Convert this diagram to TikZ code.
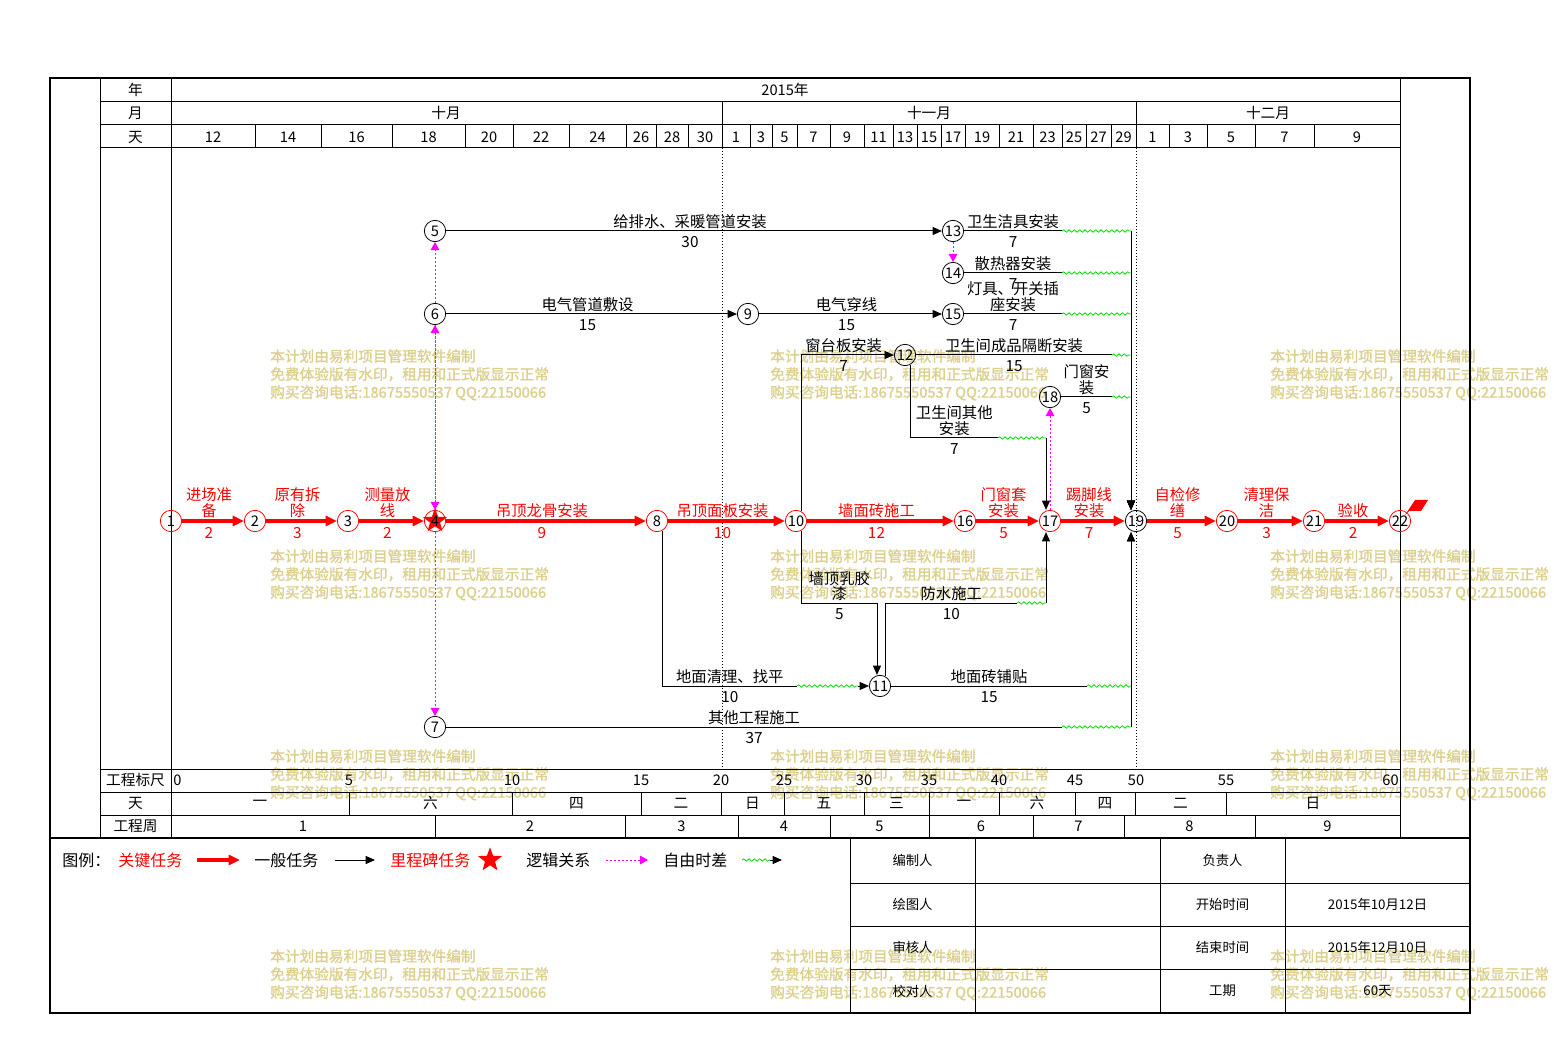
\documentclass[tikz,border=0pt]{standalone}
\usepackage{fontspec}
\setmainfont{Noto Sans CJK SC}
\newfontfamily\wmfont[FakeBold=1.5]{Noto Sans CJK SC}
\usepackage{tikz}
\usetikzlibrary{arrows.meta,positioning,calc,shapes.geometric,decorations.pathmorphing}
\definecolor{critRed}{HTML}{FF0000}
\definecolor{logicPink}{HTML}{FF00FF}
\definecolor{floatGreen}{HTML}{00E000}
\definecolor{wmKhaki}{HTML}{DCD08E}
\newcommand{\lblfont}{\fontsize{11.5}{11.5}\selectfont}
\newcommand{\cellfont}{\fontsize{11}{12}\selectfont}
\newcommand{\evtfont}{\fontsize{11}{11}\selectfont}
\newcommand{\tabfont}{\fontsize{10}{11}\selectfont}

\begin{document}
\begin{tikzpicture}[x=0.75pt,y=-0.75pt,font=\lblfont,
  evt/.style={circle,draw=black,line width=0.6pt,inner sep=0pt,minimum size=16pt,font=\evtfont},
  cevt/.style={evt,draw=critRed},
  task/.style={draw=black,line width=0.75pt},
  tarr/.style={task,-{Triangle[length=7pt,width=6pt]}},
  crit/.style={draw=critRed,line width=2.5pt,-{Triangle[length=8.5pt,width=7.5pt]}},
  logic/.style={draw=logicPink,line width=0.75pt,dash pattern=on 1.5pt off 1.5pt,
                -{Triangle[length=6pt,width=6.5pt]}},
  flt/.style={draw=floatGreen,line width=0.6pt,decorate,
              decoration={snake,amplitude=0.9pt,segment length=4pt}},
  tname/.style={above=0.5pt,align=center,inner sep=1pt},
  tdur/.style={below=2.5pt,inner sep=1pt},
  aname/.style={tname,xshift=-3pt},
  adur/.style={tdur,xshift=-3pt},
  cname/.style={aname,text=critRed},
  cdur/.style={adur,text=critRed},
  cell/.style={font=\cellfont,inner sep=0pt},
  wm/.style={text=wmKhaki,font=\wmfont\fontsize{11}{13.5}\selectfont,align=left,
             anchor=north west,inner sep=0pt}]
  \useasboundingbox[fill=white] (0,0) rectangle (1554,1062);

  % watermark
  \foreach \wx in {270,770,1270}
    \foreach \wy in {349,549,749,949}
      \node[wm] (wm-\wx-\wy) at (\wx,\wy)
        {本计划由易利项目管理软件编制\\免费体验版有水印，租用和正式版显示正常\\购买咨询电话:18675550537 QQ:22150066};

  % frame and time scale
  \draw[line width=1.5pt] (50,78) rectangle (1470,1013);
  \draw[line width=1.5pt] (50,838) -- (1470,838);
  \foreach \xx in {100,171,1400} \draw[line width=0.75pt] (\xx,78) -- (\xx,838);
  \foreach \yy in {102,125,148,769,792,815} \draw[line width=0.75pt] (100,\yy) -- (1400,\yy);
  \draw[line width=0.75pt] (722,102) -- (722,125) (1136,102) -- (1136,125);
  \draw[dash pattern=on 0.75pt off 1.5pt] (722,148) -- (722,769) (1136,148) -- (1136,769);

  \node[cell] (hY) at (135.5,90) {年};
  \node[cell] (hM) at (135.5,113) {月};
  \node[cell] (hD) at (135.5,137) {天};
  \node[cell] (fS) at (135.5,780) {工程标尺};
  \node[cell] (fD) at (135.5,803) {天};
  \node[cell] (fW) at (135.5,826) {工程周};
  \node[cell] (yr) at (785,90) {2015年};
  \node[cell] (m10) at (446,113) {十月};
  \node[cell] (m11) at (929,113) {十一月};
  \node[cell] (m12) at (1268,113) {十二月};

  \foreach \a/\b/\d [count=\i] in {171/255/12,255/321/14,321/392/16,392/465/18,465/513/20,
      513/569/22,569/626/24,626/656/26,656/688/28,688/722/30,722/750/1,750/772/3,772/797/5,
      797/830/7,830/864/9,864/893/11,893/917/13,917/941/15,941/965/17,965/999/19,999/1033/21,
      1033/1062/23,1062/1086/25,1086/1111/27,1111/1136/29,1136/1169/1,1169/1207/3,
      1207/1255/5,1255/1314/7,1314/1400/9} {
    \draw[line width=0.75pt] (\b,125) -- (\b,148);
    \node[cell] (day\i) at ({(\a+\b)/2},137) {\d};
  }
  \foreach \a/\b/\w [count=\i] in {171/349/一,349/512/六,512/641/四,641/721/二,721/784/日,
      784/864/五,864/929/三,929/999/一,999/1075/六,1075/1135/四,1135/1226/二,1226/1400/日} {
    \draw[line width=0.75pt] (\b,792) -- (\b,815);
    \node[cell] (wd\i) at ({(\a+\b)/2},803) {\w};
  }
  \foreach \a/\b/\w [count=\i] in {171/435/1,435/625/2,625/738/3,738/830/4,830/929/5,
      929/1033/6,1033/1124/7,1124/1255/8,1255/1400/9} {
    \draw[line width=0.75pt] (\b,815) -- (\b,838);
    \node[cell] (wk\i) at ({(\a+\b)/2},826) {\w};
  }
  \node[cell,anchor=west] (sc0) at (173,780) {0};
  \foreach \v/\px in {5/349,10/512,15/641,20/721,25/784,30/864,35/929,40/999,45/1075,50/1136,55/1226}
    \node[cell] (sc\v) at (\px,780) {\v};
  \node[cell,anchor=east] (sc60) at (1399,780) {60};

  % events
  \node[cevt] (e1) at (171,521) {1};
  \node[cevt] (e2) at (255,521) {2};
  \node[cevt] (e3) at (348,521) {3};
  \node[cevt] (e4) at (435,521) {};
  \node[evt] (e5) at (435,231) {5};
  \node[evt] (e6) at (435,314) {6};
  \node[evt] (e7) at (435,727) {7};
  \node[cevt] (e8) at (657,521) {8};
  \node[evt] (e9) at (748,314) {9};
  \node[cevt] (e10) at (796,521) {10};
  \node[evt] (e11) at (880,686) {11};
  \node[evt] (e12) at (905,355) {12};
  \node[evt] (e13) at (953,231) {13};
  \node[evt] (e14) at (953,273) {14};
  \node[evt] (e15) at (953,314) {15};
  \node[cevt] (e16) at (965,521) {16};
  \node[cevt] (e17) at (1050,521) {17};
  \node[evt] (e18) at (1050,397) {18};
  \node[evt] (e19) at (1136,521) {19};
  \node[cevt] (e20) at (1227,521) {20};
  \node[cevt] (e21) at (1314,521) {21};
  \node[cevt] (e22) at (1400,521) {22};
  \node[star,star points=5,star point ratio=2.4,fill=critRed,inner sep=0pt,minimum size=19pt] (s4) at (e4) {};
  \node[font=\evtfont,inner sep=0pt] (t4) at (e4) {4};
  \fill[critRed] (1405,515) -- (1415,500) -- (1428,500) -- (1421,511) -- (1409,511) -- cycle;

  \coordinate (w13) at (1062,231); \coordinate (c13) at (1131,231);
  \coordinate (w14) at (1062,273); \coordinate (c14) at (1131,273);
  \coordinate (w15) at (1062,314); \coordinate (c15) at (1131,314);
  \coordinate (w12) at (1112,355); \coordinate (c12) at (1131,355);
  \coordinate (w18) at (1112,397); \coordinate (c18) at (1131,397);
  \coordinate (w7) at (1062,727);  \coordinate (c7) at (1131,727);
  \coordinate (w11) at (1087,686); \coordinate (c11) at (1131,686);
  \coordinate (w17a) at (998,438); \coordinate (c17a) at (1046,438);
  \coordinate (b10) at (877,603);
  \coordinate (w17b) at (1017,603); \coordinate (c17b) at (1046,603);
  \coordinate (w811) at (797,686); \coordinate (c811) at (858,686);

  % critical path
  \draw[crit] (e1) -- (e2) node[midway,cname] (n1) {进场准\\备} node[midway,cdur] (d1) {2};
  \draw[crit] (e2) -- (e3) node[midway,cname] (n2) {原有拆\\除} node[midway,cdur] (d2) {3};
  \draw[crit] (e3) -- (e4) node[midway,cname] (n3) {测量放\\线} node[midway,cdur] (d3) {2};
  \draw[crit] (e4) -- (e8) node[midway,cname] (n4) {吊顶龙骨安装} node[midway,cdur] (d4) {9};
  \draw[crit] (e8) -- (e10) node[midway,cname] (n8) {吊顶面板安装} node[midway,cdur] (d8) {10};
  \draw[crit] (e10) -- (e16) node[midway,cname] (n10) {墙面砖施工} node[midway,cdur] (d10) {12};
  \draw[crit] (e16) -- (e17) node[midway,cname] (n16) {门窗套\\安装} node[midway,cdur] (d16) {5};
  \draw[crit] (e17) -- (e19) node[midway,cname] (n17) {踢脚线\\安装} node[midway,cdur] (d17) {7};
  \draw[crit] (e19) -- (e20) node[midway,cname] (n19) {自检修\\缮} node[midway,cdur] (d19) {5};
  \draw[crit] (e20) -- (e21) node[midway,cname] (n20) {清理保\\洁} node[midway,cdur] (d20) {3};
  \draw[crit] (e21) -- (e22) node[midway,cname] (n21) {验收} node[midway,cdur] (d21) {2};

  % logic links
  \draw[logic] (e4) -- (e6);
  \draw[logic] (e6) -- (e4);
  \draw[logic] (e6) -- (e5);
  \draw[logic] (e4) -- (e7);
  \draw[logic] (e13) -- (e14);
  \draw[logic] (e17) -- (e18);

  % other tasks
  \draw[tarr] (e5) -- (e13) node[midway,aname] (n5) {给排水、采暖管道安装} node[midway,adur] (d5) {30};
  \draw[tarr] (e6) -- (e9) node[midway,aname] (n6) {电气管道敷设} node[midway,adur] (d6) {15};
  \draw[tarr] (e9) -- (e15) node[midway,aname] (n9) {电气穿线} node[midway,adur] (d9) {15};
  \draw[task] (e13) -- (w13) node[midway,tname] (n13) {卫生洁具安装} node[midway,tdur] (d13) {7};
  \draw[task] (e14) -- (w14) node[midway,tname] (n14) {散热器安装} node[midway,tdur] (d14) {7};
  \draw[task] (e15) -- (w15) node[midway,tname] (n15) {灯具、开关插\\座安装} node[midway,tdur] (d15) {7};
  \draw[task] (e12) -- (w12) node[midway,tname] (n12) {卫生间成品隔断安装} node[midway,tdur] (d12) {15};
  \draw[task] (e18) -- (w18) node[midway,tname] (n18) {门窗安\\装} node[midway,tdur] (d18) {5};
  \draw[task] (e7) -- (w7) node[midway,tname] (n7) {其他工程施工} node[midway,tdur] (d7) {37};
  \draw[task] (e11) -- (w11) node[midway,tname] (n11) {地面砖铺贴} node[midway,tdur] (d11) {15};
  \draw[tarr] (e10.60) |- (e12) node[pos=0.75,aname] (n1012) {窗台板安装} node[pos=0.75,adur] (d1012) {7};
  \draw[task] (e12.-60) |- (w17a) node[pos=0.75,tname] (n1217) {卫生间其他\\安装} node[pos=0.75,tdur] (d1217) {7};
  \draw[tarr] (e10.-60) |- (b10) node[pos=0.75,tname] (n1011) {墙顶乳胶\\漆} node[pos=0.75,tdur] (d1011) {5}
    -- (b10 |- e11.north);
  \draw[task] (e11.60) |- (w17b) node[pos=0.75,tname] (n1117) {防水施工} node[pos=0.75,tdur] (d1117) {10};
  \draw[task] (e8.-60) |- (w811) node[pos=0.75,tname] (n811) {地面清理、找平} node[pos=0.75,tdur] (d811) {10};

  % free float
  \foreach \f in {13,14,15,12,18,7,11,17a,17b,811} \draw[flt] (w\f) -- (c\f);
  \foreach \f in {13,14,15,12,18} \draw[tarr] (c\f) -- (c\f |- e19.north);
  \foreach \f in {7,11} \draw[tarr] (c\f) -- (c\f |- e19.south);
  \draw[tarr] (c17a) -- (c17a |- e17.north);
  \draw[tarr] (c17b) -- (c17b |- e17.south);
  \draw[tarr] (c811) -- (e11);

  % legend
  \node[font=\fontsize{12}{12}\selectfont,anchor=west,inner sep=0pt] (lg0) at (62,860) {图例：};
  \node[font=\fontsize{12}{12}\selectfont,anchor=west,inner sep=0pt,text=critRed] (lg1) at (118,860) {关键任务};
  \node[font=\fontsize{12}{12}\selectfont,anchor=west,inner sep=0pt] (lg2) at (254,860) {一般任务};
  \node[font=\fontsize{12}{12}\selectfont,anchor=west,inner sep=0pt,text=critRed] (lg3) at (390,860) {里程碑任务};
  \node[font=\fontsize{12}{12}\selectfont,anchor=west,inner sep=0pt] (lg4) at (526,860) {逻辑关系};
  \node[font=\fontsize{12}{12}\selectfont,anchor=west,inner sep=0pt] (lg5) at (663,860) {自由时差};
  \coordinate (lk1) at (197,860);
  \coordinate (lk2) at (335,860);
  \coordinate (lk4) at (606,860);
  \coordinate (lk5) at (742,860);
  \draw[crit] (lk1) -- ++(43,0);
  \draw[tarr] (lk2) -- ++(40,0);
  \node[star,star points=5,star point ratio=2.4,fill=critRed,inner sep=0pt,minimum size=19pt] (lgs) at (490,860) {};
  \draw[logic] (lk4) -- ++(42,0);
  \draw[flt] (lk5) -- ++(28,0) coordinate (lk5b);
  \draw[tarr] (lk5b) -- ++(12,0);

  % sign-off table
  \draw[line width=0.75pt] (850,838) -- (850,1013);
  \foreach \xx in {975,1160,1285} \draw[line width=0.75pt] (\xx,838) -- (\xx,1013);
  \foreach \yy in {883,926,969} \draw[line width=0.75pt] (850,\yy) -- (1470,\yy);
  \node[font=\tabfont] (tb1) at (912.5,860.5) {编制人};
  \node[font=\tabfont] (tb2) at (1222.5,860.5) {负责人};
  \node[font=\tabfont] (tb3) at (912.5,904) {绘图人};
  \node[font=\tabfont] (tb4) at (1222.5,904) {开始时间};
  \node[font=\tabfont] (tb5) at (1377.5,904) {2015年10月12日};
  \node[font=\tabfont] (tb6) at (912.5,947) {审核人};
  \node[font=\tabfont] (tb7) at (1222.5,947) {结束时间};
  \node[font=\tabfont] (tb8) at (1377.5,947) {2015年12月10日};
  \node[font=\tabfont] (tb9) at (912.5,991) {校对人};
  \node[font=\tabfont] (tb10) at (1222.5,991) {工期};
  \node[font=\tabfont] (tb11) at (1377.5,991) {60天};
\end{tikzpicture}
\end{document}
